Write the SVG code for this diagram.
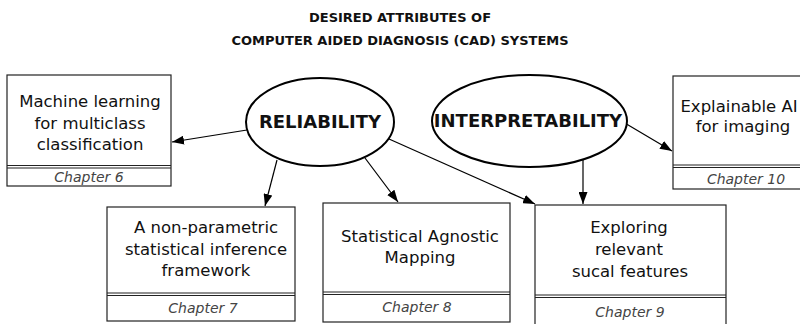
<svg xmlns="http://www.w3.org/2000/svg" width="800" height="324" viewBox="0 0 800 324">
<defs>
<style>
.t{font-family:"DejaVu Sans","Verdana",sans-serif;font-size:16.5px;fill:#111;text-anchor:middle}
.ttl{font-family:"DejaVu Sans","Verdana",sans-serif;font-size:13px;font-weight:bold;fill:#111;text-anchor:middle}
.el{font-family:"DejaVu Sans","Verdana",sans-serif;font-size:18px;font-weight:bold;fill:#111;text-anchor:middle}
.ch{font-family:"DejaVu Sans","Verdana",sans-serif;font-size:14px;font-style:italic;fill:#444;text-anchor:middle}
.box{fill:#fff;stroke:#222;stroke-width:1.2}
.sep{stroke:#222;stroke-width:1.1}
.ell{fill:#fff;stroke:#000;stroke-width:2}
.con{stroke:#000;stroke-width:1.2;fill:none;marker-end:url(#ah)}
</style>
<marker id="ah" markerUnits="userSpaceOnUse" markerWidth="12" markerHeight="9" refX="12" refY="4.5" orient="auto">
<path d="M0,0 L12,4.5 L0,9 z" fill="#000"/>
</marker>
</defs>
<rect width="800" height="324" fill="#fff"/>
<g id="title">
<text class="ttl" x="400" y="21.5">DESIRED ATTRIBUTES OF</text>
<text class="ttl" x="400" y="45">COMPUTER AIDED DIAGNOSIS (CAD) SYSTEMS</text>
</g>
<g id="reliability">
<ellipse class="ell" cx="320" cy="122" rx="74" ry="44"/>
<text class="el" x="320" y="128">RELIABILITY</text>
</g>
<g id="interpretability">
<ellipse class="ell" cx="529.5" cy="121" rx="97.5" ry="46"/>
<text class="el" x="528" y="127">INTERPRETABILITY</text>
</g>
<g id="ch6">
<rect class="box" x="7" y="75" width="164" height="111"/>
<line class="sep" x1="7" y1="165.5" x2="171" y2="165.5"/>
<line class="sep" x1="7" y1="168" x2="171" y2="168"/>
<text class="t" x="90" y="107">Machine learning</text>
<text class="t" x="90" y="128.5">for multiclass</text>
<text class="t" x="90" y="150">classification</text>
<text class="ch" x="89" y="182">Chapter 6</text>
</g>
<g id="ch10">
<rect class="box" x="673" y="76" width="145" height="113"/>
<line class="sep" x1="673" y1="165" x2="818" y2="165"/>
<line class="sep" x1="673" y1="167.5" x2="818" y2="167.5"/>
<text class="t" x="739" y="112">Explainable AI</text>
<text class="t" x="743" y="132">for imaging</text>
<text class="ch" x="746" y="183.5">Chapter 10</text>
</g>
<g id="ch7">
<rect class="box" x="107" y="207" width="188" height="114"/>
<line class="sep" x1="107" y1="293" x2="295" y2="293"/>
<line class="sep" x1="107" y1="295.5" x2="295" y2="295.5"/>
<text class="t" x="206" y="233">A non-parametric</text>
<text class="t" x="206" y="255">statistical inference</text>
<text class="t" x="206" y="276">framework</text>
<text class="ch" x="203" y="313">Chapter 7</text>
</g>
<g id="ch8">
<rect class="box" x="323" y="203" width="187" height="119"/>
<line class="sep" x1="323" y1="292" x2="510" y2="292"/>
<line class="sep" x1="323" y1="294.5" x2="510" y2="294.5"/>
<text class="t" x="420" y="242">Statistical Agnostic</text>
<text class="t" x="420" y="263">Mapping</text>
<text class="ch" x="417" y="312">Chapter 8</text>
</g>
<g id="ch9">
<rect class="box" x="535" y="205" width="191" height="130"/>
<line class="sep" x1="535" y1="295" x2="726" y2="295"/>
<line class="sep" x1="535" y1="297.5" x2="726" y2="297.5"/>
<text class="t" x="629" y="233">Exploring</text>
<text class="t" x="629" y="255">relevant</text>
<text class="t" x="630" y="277">sucal features</text>
<text class="ch" x="630" y="317">Chapter 9</text>
</g>
<g id="connectors">
<line class="con" x1="247" y1="130" x2="172" y2="142"/>
<line class="con" x1="277" y1="160" x2="265" y2="206"/>
<line class="con" x1="365" y1="158" x2="398" y2="202"/>
<line class="con" x1="389" y1="139" x2="535" y2="204"/>
<line class="con" x1="583" y1="159.5" x2="583" y2="204"/>
<line class="con" x1="626.5" y1="124" x2="672" y2="151"/>
</g>
</svg>
